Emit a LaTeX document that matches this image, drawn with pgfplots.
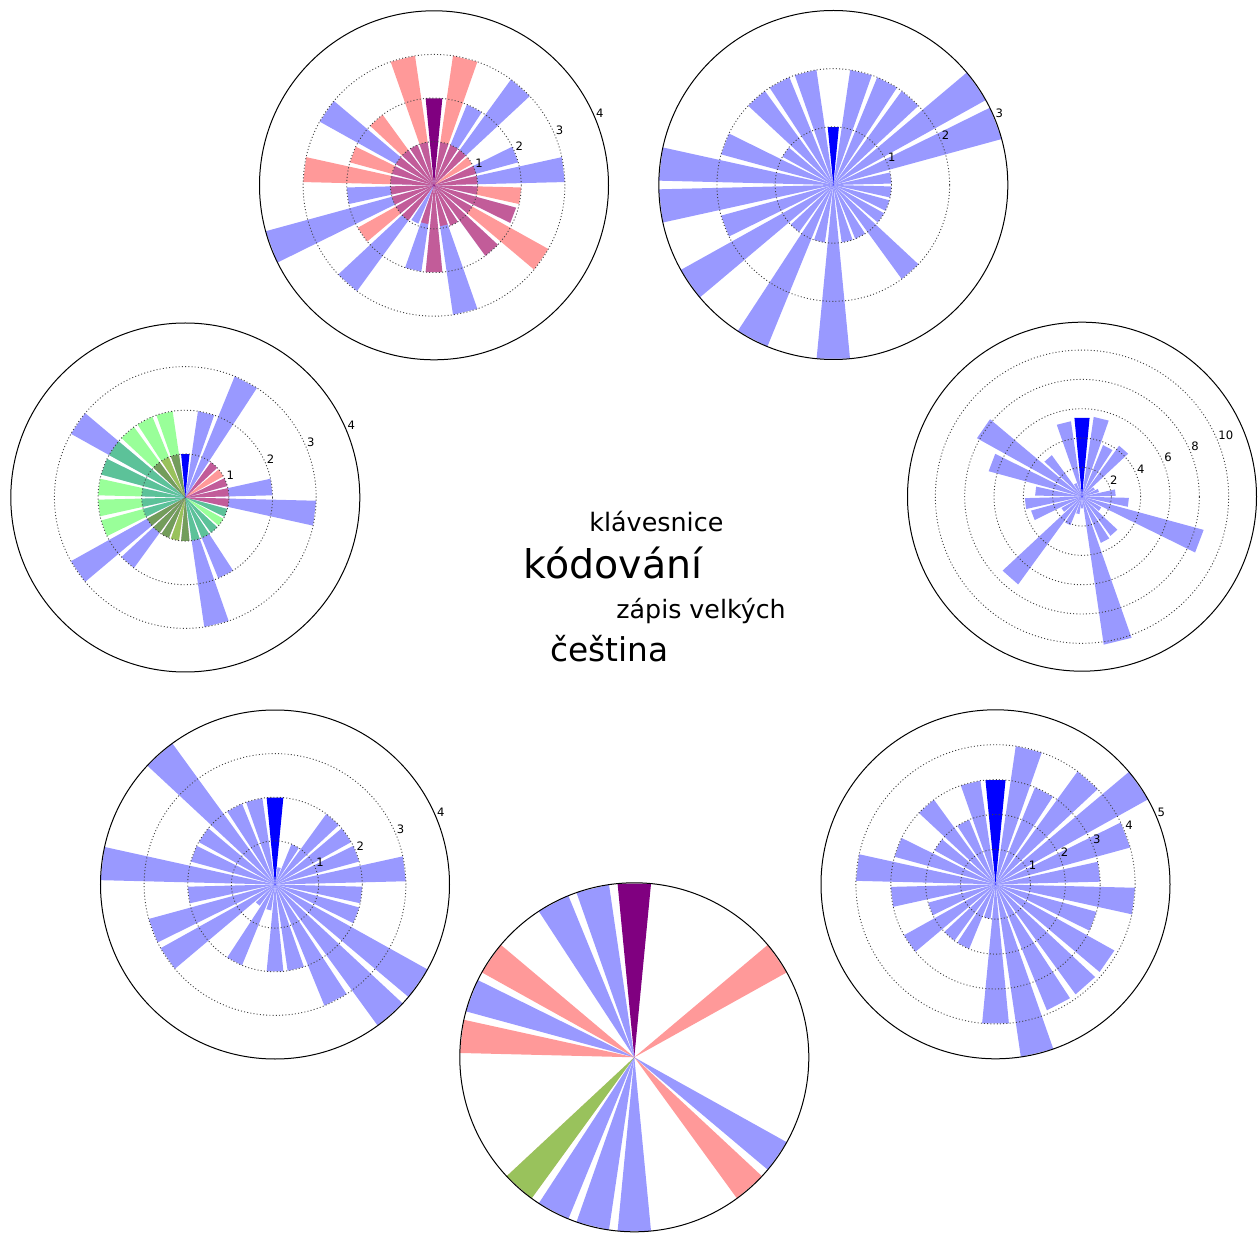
\documentclass[border=0pt]{standalone}
\usepackage{fontspec}
\setmainfont{DejaVu Sans}
\usepackage{pgfplots}
\usepackage{pgfplotstable}
\pgfplotsset{compat=1.18}
\usepgfplotslibrary{polar}

\definecolor{hlp}{RGB}{128,0,128}

% one table per wheel: 26 bins, bin 0 at the top, counter-clockwise
\pgfplotstableread{
k blue red green hl
0  0    0    0 2
1  1    3    0 0
2  1    1    0 0
3  1    2    0 0
4  3    1    0 0
5  1    2    0 0
6  1    3    0 0
7  2    1    0 0
8  4    1    0 0
9  1    2    0 0
10 3    1    0 0
11 0.95 0    0 0
12 2    0.9  0 0
13 2    2    0 0
14 3    0.95 0 0
15 1    1    0 0
16 2    2    0 0
17 1    3    0 0
18 1.95 1.95 0 0
19 1    2    0 0
20 3    1    0 0
21 2    1    0 0
22 0    1    0 0
23 3    1    0 0
24 2    1    0 0
25 1    3    0 0
}\tabA

\pgfplotstableread{
k blue red green hl
0  0 0 0 1
1  2 0 0 0
2  2 0 0 0
3  2 0 0 0
4  1 0 0 0
5  2 0 0 0
6  3 0 0 0
7  3 0 0 0
8  2 0 0 0
9  3 0 0 0
10 1 0 0 0
11 3 0 0 0
12 1 0 0 0
13 3 0 0 0
14 1 0 0 0
15 1 0 0 0
16 2 0 0 0
17 1 0 0 0
18 1 0 0 0
19 1 0 0 0
20 1 0 0 0
21 3 0 0 0
22 3 0 0 0
23 2 0 0 0
24 2 0 0 0
25 2 0 0 0
}\tabB

\pgfplotstableread{
k blue red green hl
0  0 0 0 1
1  1 1 2 0
2  0 1 2 0
3  1 1 2 0
4  3 0 2 0
5  2 0 2 0
6  1 0 2 0
7  1 0 2 0
8  1 0 2 0
9  3 1 1 0
10 2 1 1 0
11 1 1 1 0
12 0 1 1 0
13 1 1 1 0
14 3 0 1 0
15 2 0 1 0
16 1 0 1 0
17 0 0 1 0
18 1 0 1 0
19 3 1 0 0
20 2 1 0 0
21 1 1 0 0
22 0 1 0 0
23 1 1 0 0
24 3 0 0 0
25 2 0 0 0
}\tabC

\pgfplotstableread{
k blue red green hl
0  0    0 0 5.4
1  5.2  0 0 0
2  1.0  0 0 0
3  3.5  0 0 0
4  8.2  0 0 0
5  6.6  0 0 0
6  3.2  0 0 0
7  3.9  0 0 0
8  3.6  0 0 0
9  1.6  0 0 0
10 7.4  0 0 0
11 2.1  0 0 0
12 1.2  0 0 0
13 0.8  0 0 0
14 10.2 0 0 0
15 3.4  0 0 0
16 3.3  0 0 0
17 1.5  0 0 0
18 8.6  0 0 0
19 3.2  0 0 0
20 2.3  0 0 0
21 1.2  0 0 0
22 1.0  0 0 0
23 4.3  0 0 0
24 3.8  0 0 0
25 5.5  0 0 0
}\tabD

\pgfplotstableread{
k blue red green hl
0  0   0 0 2
1  2   0 0 0
2  2   0 0 0
3  4   0 0 0
4  2   0 0 0
5  2   0 0 0
6  4   0 0 0
7  2   0 0 0
8  3   0 0 0
9  3   0 0 0
10 0.6 0 0 0
11 2   0 0 0
12 0.6 0 0 0
13 2   0 0 0
14 2   0 0 0
15 3   0 0 0
16 4   0 0 0
17 4   0 0 0
18 2   0 0 0
19 2   0 0 0
20 3   0 0 0
21 2   0 0 0
22 2   0 0 0
23 2   0 0 0
24 1   0 0 0
25 0.4 0 0 0
}\tabE

\pgfplotstableread{
k blue red green hl
0  0   0 0 3
1  3   0 0 0
2  2   0 0 0
3  3   0 0 0
4  2   0 0 0
5  3   0 0 0
6  4   0 0 0
7  3   0 0 0
8  2   0 0 0
9  3   0 0 0
10 2   0 0 0
11 2   0 0 0
12 1   0 0 0
13 4   0 0 0
14 5   0 0 0
15 3.9 0 0 0
16 3.9 0 0 0
17 3.9 0 0 0
18 3   0 0 0
19 4   0 0 0
20 3   0 0 0
21 4   0 0 0
22 5   0 0 0
23 4   0 0 0
24 3   0 0 0
25 4   0 0 0
}\tabF

\pgfplotstableread{
k blue red green hl
0  0 0 0 1
1  1 0 0 0
2  1 0 0 0
3  0 0 0 0
4  0 1 0 0
5  1 0 0 0
6  0 1 0 0
7  0 0 0 0
8  0 0 0 0
9  0 0 0 0
10 0 1 1 0
11 1 0 0 0
12 1 0 0 0
13 1 0 0 0
14 0 0 0 0
15 0 0 0 0
16 0 1 0 0
17 1 0 0 0
18 0 0 0 0
19 0 0 0 0
20 0 0 0 0
21 0 0 0 0
22 0 1 0 0
23 0 0 0 0
24 0 0 0 0
25 0 0 0 0
}\tabG

% wedges of one wheel: #1 table, #2 colour of the highlighted bin
\newcommand\wheelbars[2]{%
  \foreach \k in {0,...,25} {%
    \pgfmathsetmacro\tc{mod(90+\k*360/26,360)}%
    \pgfmathsetmacro\ta{\tc-5.5}%
    \pgfmathsetmacro\tb{\tc+5.5}%
    \foreach \s/\c/\o in {blue/blue/0.4,red/red/0.4,green/green/0.4,hl/#2/1} {%
      \pgfplotstablegetelem{\k}{\s}\of#1%
      \let\v\pgfplotsretval
      \ifdim\v pt>0pt
        \edef\tmp{\noexpand\addplot[draw=none,fill=\c,fill opacity=\o] coordinates {(0,0) (\ta,\v) (\tb,\v)};}%
        \tmp
      \fi
    }%
  }%
}

\newcommand\wheellabels[1]{%
  \foreach \t in {#1} {%
    \edef\tmp{\noexpand\node[rlab] at (axis cs:22.5,\t) {\t};}\tmp
  }%
}

\tikzset{rlab/.style={anchor=south west, inner sep=0.3pt, font=\fontsize{5.8}{7}\selectfont}}

\pgfplotsset{
  wheel/.style={
    width=174.5pt, height=174.5pt, scale only axis,
    anchor=center, clip=false,
    xmin=0, xmax=360, ymin=0,
    xtick=\empty,
    yticklabels={,,,,,,},
    yticklabel style={opacity=0},
    y axis line style={draw=none},
    major tick length=0pt,
    ymajorgrids,
    major grid style={black!75, dash pattern=on 0.5pt off 1.1pt, line width=0.45pt},
    axis line style={black, line width=0.5pt},
    axis on top,
  },
}

\begin{document}
\begin{tikzpicture}
\path (0,0) rectangle (629.5pt,616.5pt);

\begin{polaraxis}[wheel, at={(217pt,523.85pt)}, ymax=4, ytick={1,2,3}]
\wheelbars{\tabA}{hlp}
\wheellabels{1,2,3,4}
\end{polaraxis}

\begin{polaraxis}[wheel, at={(416.65pt,524pt)}, ymax=3, ytick={1,2}]
\wheelbars{\tabB}{blue}
\wheellabels{1,2,3}
\end{polaraxis}

\begin{polaraxis}[wheel, at={(92.65pt,367.75pt)}, ymax=4, ytick={1,2,3}]
\wheelbars{\tabC}{blue}
\wheellabels{1,2,3,4}
\end{polaraxis}

\begin{polaraxis}[wheel, at={(541pt,368.15pt)}, ymax=11.9, ytick={2,4,6,8,10}]
\wheelbars{\tabD}{blue}
\wheellabels{2,4,6,8,10}
\end{polaraxis}

\begin{polaraxis}[wheel, at={(137.5pt,174.25pt)}, ymax=4, ytick={1,2,3}]
\wheelbars{\tabE}{blue}
\wheellabels{1,2,3,4}
\end{polaraxis}

\begin{polaraxis}[wheel, at={(497.75pt,174.35pt)}, ymax=5, ytick={1,2,3,4}]
\wheelbars{\tabF}{blue}
\wheellabels{1,2,3,4,5}
\end{polaraxis}

\begin{polaraxis}[wheel, at={(317.15pt,87.85pt)}, ymax=1, ytick=\empty, ymajorgrids=false]
\wheelbars{\tabG}{hlp}
\end{polaraxis}

\node[anchor=base west, inner sep=0, font=\fontsize{12.7}{15}\selectfont] at (294.5pt,350.65pt) {klávesnice};
\node[anchor=base west, inner sep=0, font=\fontsize{19.75}{23}\selectfont] at (261.65pt,327.35pt) {kódování};
\node[anchor=base west, inner sep=0, font=\fontsize{12.65}{15}\selectfont] at (308pt,307.35pt) {zápis velkých};
\node[anchor=base west, inner sep=0, font=\fontsize{16.4}{19}\selectfont] at (275pt,285.65pt) {čeština};
\end{tikzpicture}
\end{document}
